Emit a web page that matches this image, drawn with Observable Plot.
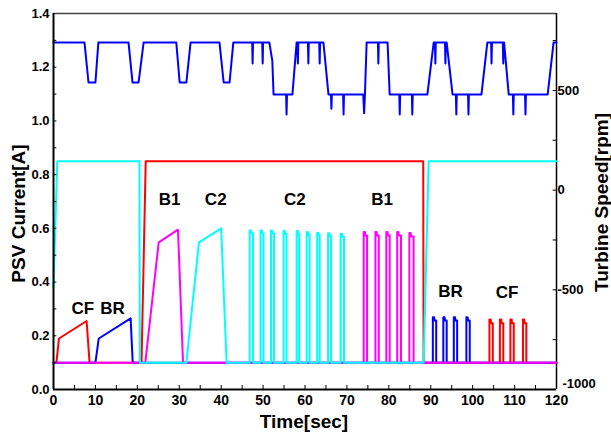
<!DOCTYPE html>
<html>
<head>
<meta charset="utf-8">
<script src="https://cdn.jsdelivr.net/npm/d3@7"></script>
<script src="https://cdn.jsdelivr.net/npm/@observablehq/plot@0.6"></script>
<style>
  html, body { margin: 0; padding: 0; background: #fff; }
  #chart svg { display: block; }
</style>
</head>
<body>
<div id="chart"></div>
<script>
// ---------- Data ----------
// Turbine speed (right axis, rpm)
const speedT = [0, 7.4, 8.35, 10.0, 10.7, 17.9, 18.85, 20.3, 21.5, 29.3, 30.1, 31.7, 32.7, 39.6, 40.6, 42.0, 42.9,
  47.4, 47.5, 47.6, 49.8, 49.9, 50.0, 51.5, 52.2, 52.5,
  55.5, 55.6, 55.7, 57.0, 58.0, 58.2, 58.3, 58.4,
  60.7, 60.8, 60.9, 63.4, 63.5, 63.6, 64.4, 65.6,
  66.2, 66.3, 66.4, 69.1, 69.2, 69.3, 73.9, 74.1, 74.3, 74.7,
  77.4, 77.5, 77.6, 79.7, 80.2,
  82.5, 82.6, 82.7, 85.5, 85.6, 85.7, 89.2, 90.7,
  91.0, 91.1, 91.2, 93.4, 93.5, 93.6, 93.8, 95.2,
  96.0, 96.1, 96.2, 98.9, 99.0, 99.1, 102.1, 103.5,
  104.4, 104.5, 104.6, 107.2, 107.3, 107.4, 107.5, 108.6,
  109.6, 109.7, 109.8, 112.5, 112.6, 112.7, 117.9, 119.3, 120];
const speedRpm = [740, 740, 540, 540, 740, 740, 540, 540, 740, 740, 540, 540, 740, 740, 540, 540, 740,
  740, 635, 740, 740, 635, 740, 740, 650, 480,
  480, 380, 480, 480, 740, 740, 635, 740,
  740, 635, 740, 740, 635, 740, 740, 480,
  480, 408, 480, 480, 380, 480, 480, 386, 480, 740,
  740, 635, 740, 740, 480,
  480, 380, 480, 480, 380, 480, 480, 740,
  740, 635, 740, 740, 635, 740, 740, 480,
  480, 380, 480, 480, 380, 480, 480, 740,
  740, 635, 740, 740, 635, 740, 740, 480,
  480, 380, 480, 480, 380, 480, 480, 740, 740];

// PSV currents (left axis, A)
const redT = [0, 0.7, 1.3, 7.9, 8.6, 21.0, 22.0, 88.2, 88.3,
  104.0, 104.0, 104.3, 104.4, 104.8, 104.8,
  106.5, 106.5, 106.8, 106.9, 107.3, 107.3,
  109.0, 109.0, 109.3, 109.4, 109.8, 109.8,
  112.0, 112.0, 112.3, 112.4, 112.8, 112.8, 120];
const redA = [0.1, 0.1, 0.19, 0.255, 0.1, 0.1, 0.85, 0.85, 0.1,
  0.1, 0.261, 0.261, 0.247, 0.247, 0.1,
  0.1, 0.261, 0.261, 0.247, 0.247, 0.1,
  0.1, 0.261, 0.261, 0.247, 0.247, 0.1,
  0.1, 0.261, 0.261, 0.247, 0.247, 0.1, 0.1];

const blueT = [0, 10.0, 10.8, 18.4, 18.9,
  90.5, 90.5, 90.8, 90.9, 91.3, 91.3,
  93.0, 93.0, 93.3, 93.4, 93.8, 93.8,
  95.5, 95.5, 95.8, 95.9, 96.3, 96.3,
  98.5, 98.5, 98.8, 98.9, 99.3, 99.3, 120];
const blueA = [0.1, 0.1, 0.19, 0.265, 0.1,
  0.1, 0.269, 0.269, 0.257, 0.257, 0.1,
  0.1, 0.269, 0.269, 0.257, 0.257, 0.1,
  0.1, 0.269, 0.269, 0.257, 0.257, 0.1,
  0.1, 0.269, 0.269, 0.257, 0.257, 0.1, 0.1];

const magentaT = [0, 21.9, 25.1, 29.7, 30.9,
  74.0, 74.0, 74.3, 74.4, 74.8, 74.8,
  76.8, 76.8, 77.1, 77.2, 77.6, 77.6,
  79.4, 79.4, 79.7, 79.8, 80.2, 80.2,
  82.0, 82.0, 82.3, 82.4, 82.9, 82.9,
  84.9, 84.9, 85.2, 85.3, 85.9, 85.9, 120];
const magentaA = [0.1, 0.1, 0.548, 0.595, 0.1,
  0.1, 0.586, 0.586, 0.573, 0.573, 0.1,
  0.1, 0.586, 0.586, 0.573, 0.573, 0.1,
  0.1, 0.586, 0.586, 0.573, 0.573, 0.1,
  0.1, 0.586, 0.586, 0.573, 0.573, 0.1,
  0.1, 0.583, 0.583, 0.570, 0.570, 0.1, 0.1];

const cyanT = [0, 0.9, 20.5, 20.6, 31.7, 34.7, 40.0, 41.3,
  46.8, 46.8, 47.1, 47.2, 47.6, 47.6,
  49.4, 49.4, 49.7, 49.8, 50.1, 50.1,
  51.9, 51.9, 52.2, 52.3, 52.6, 52.6,
  54.9, 54.9, 55.2, 55.3, 55.6, 55.6,
  58.0, 58.0, 58.3, 58.4, 58.6, 58.6,
  60.4, 60.4, 60.7, 60.8, 61.1, 61.1,
  62.9, 62.9, 63.2, 63.3, 63.5, 63.5,
  65.5, 65.5, 65.8, 65.9, 66.2, 66.2,
  68.5, 68.5, 68.8, 68.9, 69.3, 69.3,
  88.3, 89.5, 120];
const cyanA = [0.38, 0.85, 0.85, 0.1, 0.1, 0.548, 0.60, 0.1,
  0.1, 0.592, 0.592, 0.582, 0.582, 0.1,
  0.1, 0.592, 0.592, 0.582, 0.582, 0.1,
  0.1, 0.592, 0.592, 0.582, 0.582, 0.1,
  0.1, 0.590, 0.590, 0.580, 0.580, 0.1,
  0.1, 0.590, 0.590, 0.580, 0.580, 0.1,
  0.1, 0.586, 0.586, 0.576, 0.576, 0.1,
  0.1, 0.583, 0.583, 0.574, 0.574, 0.1,
  0.1, 0.582, 0.582, 0.572, 0.572, 0.1,
  0.1, 0.580, 0.580, 0.570, 0.570, 0.1,
  0.1, 0.85, 0.85];

// Annotations
const noteText = ["CF", "BR", "B1", "C2", "C2", "B1", "BR", "CF"];
const noteT = [7.0, 14.1, 27.7, 38.7, 57.6, 78.4, 94.7, 108.2];
const noteA = [0.303, 0.303, 0.707, 0.707, 0.707, 0.707, 0.366, 0.362];

// Axes
const xTicks = [0, 10, 20, 30, 40, 50, 60, 70, 80, 90, 100, 110, 120];
const xMinor = [5, 15, 25, 35, 45, 55, 65, 75, 85, 95, 105, 115];
const yTicks = [0.0, 0.2, 0.4, 0.6, 0.8, 1.0, 1.2, 1.4];
const yMinor = [0.1, 0.3, 0.5, 0.7, 0.9, 1.1, 1.3];
const rpmTicks = [500, 0, -500];
const rpmBottom = [-1000];
const rpmMinor = [750, 250, -250, -750];
const rpmDomain = [-1000, 886];
const yDomain = [0, 1.4];
const xDomain = [0, 120];

// ---------- Build ----------
const rpmToA = r => (r - rpmDomain[0]) / (rpmDomain[1] - rpmDomain[0]) * (yDomain[1] - yDomain[0]) + yDomain[0];
const zip = (T, V) => T.map((t, i) => ({t, v: V[i]}));
const speed = speedT.map((t, i) => ({t, v: rpmToA(speedRpm[i])}));
const red = zip(redT, redA), blue = zip(blueT, blueA), magenta = zip(magentaT, magentaA), cyan = zip(cyanT, cyanA);
const notes = noteText.map((s, i) => ({s, t: noteT[i], v: noteA[i]}));

const lw = 2;
const font = "Liberation Sans, Arial, Helvetica, sans-serif";

const chart = Plot.plot({
  width: 611,
  height: 437,
  marginLeft: 53,
  marginRight: 55,
  marginTop: 13,
  marginBottom: 48,
  style: {fontFamily: font, fontWeight: "bold", background: "#fff", color: "#000", overflow: "visible"},
  x: {domain: xDomain, axis: null},
  y: {domain: yDomain, axis: null},
  marks: [
    // top frame & right spine
    Plot.ruleY([yDomain[1]], {stroke: "#444", strokeWidth: 1.5}),
    Plot.ruleX([xDomain[1]], {stroke: "#000", strokeWidth: 1.5}),
    // series
    Plot.line(red, {x: "t", y: "v", stroke: "#ff0000", strokeWidth: lw}),
    Plot.line(blue, {x: "t", y: "v", stroke: "#0000ff", strokeWidth: lw}),
    Plot.line(magenta, {x: "t", y: "v", stroke: "#ff00ff", strokeWidth: lw}),
    Plot.line(cyan, {x: "t", y: "v", stroke: "#00ffff", strokeWidth: lw}),
    Plot.line(speed, {x: "t", y: "v", stroke: "#0000ff", strokeWidth: lw}),
    // annotations
    Plot.text(notes, {x: "t", y: "v", text: "s", fontSize: 17, fontWeight: "bold", fill: "#000"}),
    // left & bottom spines
    Plot.ruleX([xDomain[0]], {stroke: "#000", strokeWidth: 2}),
    Plot.ruleY([yDomain[0]], {stroke: "#000", strokeWidth: 2}),
    // inward ticks
    Plot.ruleY(yMinor.concat(yTicks.slice(1, -1)), {y: d => d, x1: 0, x2: 0.8, stroke: "#000", strokeWidth: 1}),
    Plot.ruleX(xMinor.concat(xTicks.slice(1, -1)), {x: d => d, y1: 0, y2: 0.015, stroke: "#000", strokeWidth: 1}),
    Plot.ruleY(rpmMinor.concat(rpmTicks), {y: d => rpmToA(d), x1: 119.2, x2: 120, stroke: "#000", strokeWidth: 1}),
    // tick labels
    Plot.text(yTicks, {x: 0, y: d => d, text: d => d.toFixed(1), textAnchor: "end", dx: -4, fontSize: 13, fill: "#000"}),
    Plot.text(xTicks, {x: d => d, y: 0, text: d => String(d), dy: 11, fontSize: 14, fill: "#000"}),
    Plot.text(rpmTicks, {x: xDomain[1], y: d => rpmToA(d), text: d => String(d), textAnchor: "start", dx: 1, fontSize: 13, fill: "#000"}),
    Plot.text(rpmBottom, {x: xDomain[1], y: d => rpmToA(d), text: d => String(d), textAnchor: "start", dx: 6, dy: -6, fontSize: 13, fill: "#000"}),
    // axis titles
    Plot.text(["PSV Current[A]"], {frameAnchor: "left", textAnchor: "middle", lineAnchor: "middle", dx: -35, dy: 12, rotate: -90, fontSize: 19, fill: "#000"}),
    Plot.text(["Turbine Speed[rpm]"], {frameAnchor: "right", textAnchor: "middle", lineAnchor: "middle", dx: 45, dy: 1, rotate: -90, fontSize: 19, fill: "#000"}),
    Plot.text(["Time[sec]"], {frameAnchor: "bottom", textAnchor: "middle", lineAnchor: "middle", dx: -1, dy: 32, fontSize: 19, fill: "#000"})
  ]
});
document.getElementById("chart").appendChild(chart);
</script>
</body>
</html>
